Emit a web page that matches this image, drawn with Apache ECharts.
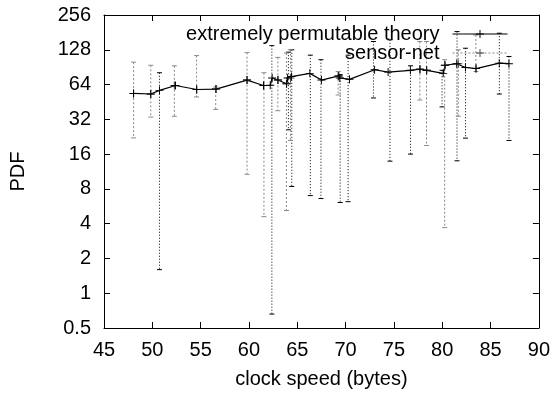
<!DOCTYPE html>
<html>
<head>
<meta charset="utf-8">
<script src="https://cdn.jsdelivr.net/npm/echarts@6/dist/echarts.min.js"></script>
<style>
  html, body { margin: 0; padding: 0; background: #fff; }
  #chart { width: 553px; height: 394px; }
</style>
</head>
<body>
<div id="chart"></div>
<script>
// x ticks and y (log2) ticks
var xTicks = [45, 50, 55, 60, 65, 70, 75, 80, 85, 90];
var yTicks = [0.5, 1, 2, 4, 8, 16, 32, 64, 128, 256];

// extremely permutable theory - line points
var theoryX = [48.06, 49.84, 50.74, 52.4, 54.6, 56.6, 59.8, 61.5, 62.2, 62.4, 63.0, 63.9, 64.0, 64.4, 66.3, 67.5,
               69.3, 69.4, 70.4, 73.0, 74.4, 76.7, 77.7, 78.4, 80.1, 80.3, 81.5, 82.4, 83.5, 85.9, 86.9];
var theoryY = [53.6, 53, 57, 62.8, 58, 58.5, 70, 62.8, 63, 73, 70, 65, 73, 75, 80, 70,
               76, 73, 71, 86, 82, 85, 87, 85, 80, 94, 97, 90, 88, 98, 97];
// black dotted error bars
var theoryErrX = [50.74, 62.37, 64.08, 64.43, 66.35, 67.45, 69.44, 70.26, 72.88, 74.59, 76.72, 79.98, 81.53, 82.41, 85.91, 86.91];
var theoryErrLow = [1.6, 0.66, 26, 8.4, 7.0, 6.6, 6.1, 6.2, 49, 13.9, 16, 41, 14, 22, 53, 21];
var theoryErrHigh = [81, 139, 122, 128, 115, 105, 78, 115, 151, 156, 93, 85, 184, 132, 178, 112];

// sensor-net - grey dotted error bars
var sensorX = [48.06, 49.84, 52.28, 54.58, 56.56, 59.8, 61.55, 62.99, 63.88, 64.29, 69.23, 77.68, 78.37, 80.25, 81.66, 83.48];
var sensorY = [53.6, 53, 62.8, 58, 58.5, 70, 62.8, 70, 65, 73, 76, 87, 85, 94, 97, 88];
var sensorLow = [22.1, 33.5, 34, 50, 39, 10.7, 4.6, 38, 5.2, 21, 52, 47, 19, 3.7, 34, 83];
var sensorHigh = [100, 94, 93, 114, 61, 121, 81, 110, 120, 128, 83, 151, 151, 105, 128, 172];

var plusSymbol = 'path://M4.4,0h1.2v10h-1.2zM0,4.4h10v1.2h-10z';
var font = 'Liberation Sans, Arial, sans-serif';

function errBar(color, dash) {
    return function (params, api) {
        var top = api.coord([api.value(0), api.value(2)]);
        var bot = api.coord([api.value(0), api.value(1)]);
        var st = { stroke: color, lineWidth: 1, lineDash: dash };
        var cap = { stroke: color, lineWidth: 1 };
        return {
            type: 'group',
            children: [
                { type: 'line', shape: { x1: top[0], y1: top[1], x2: bot[0], y2: bot[1] }, style: st },
                { type: 'line', shape: { x1: top[0] - 2.5, y1: top[1], x2: top[0] + 2.5, y2: top[1] }, style: cap },
                { type: 'line', shape: { x1: bot[0] - 2.5, y1: bot[1], x2: bot[0] + 2.5, y2: bot[1] }, style: cap }
            ]
        };
    };
}

var chart = echarts.init(document.getElementById('chart'), null, { renderer: 'canvas' });

var axisCommon = {
    axisLine: { show: true, lineStyle: { color: '#000', width: 1 } },
    axisTick: { show: true, inside: true, length: 6, lineStyle: { color: '#000' } },
    splitLine: { show: false }
};

chart.setOption({
    animation: false,
    backgroundColor: '#fff',
    textStyle: { fontFamily: font },
    grid: { left: 102, right: 14, top: 15, bottom: 64 },
    legend: [{
        data: ['extremely permutable theory'],
        right: 40, top: 19, align: 'right', orient: 'vertical',
        itemWidth: 55, itemHeight: 10,
        lineStyle: { width: 1 },
        textStyle: { fontSize: 20, color: '#000', fontFamily: font, padding: [0, 8, 0, 0] }
    }, {
        data: ['sensor-net'],
        right: 40, top: 38, align: 'right', orient: 'vertical',
        itemWidth: 55, itemHeight: 10,
        lineStyle: { color: '#888', width: 1, type: [2, 2], opacity: 1 },
        textStyle: { fontSize: 20, color: '#000', fontFamily: font, padding: [0, 8, 0, 0] }
    }],
    xAxis: [Object.assign({
        type: 'value', min: xTicks[0], max: xTicks[xTicks.length - 1], interval: 5,
        name: 'clock speed (bytes)', nameLocation: 'middle', nameGap: 41,
        nameTextStyle: { fontSize: 20, color: '#000', fontFamily: font },
        axisLabel: { fontSize: 20, color: '#000', margin: 12, fontFamily: font }
    }, axisCommon), Object.assign({
        type: 'value', position: 'top', min: xTicks[0], max: xTicks[xTicks.length - 1], interval: 5,
        axisLabel: { show: false }
    }, axisCommon)],
    yAxis: [Object.assign({
        type: 'log', logBase: 2, min: yTicks[0], max: yTicks[yTicks.length - 1], interval: 1,
        name: 'PDF', nameLocation: 'middle', nameGap: 76,
        nameTextStyle: { fontSize: 20, color: '#000', fontFamily: font },
        minorTick: { show: false },
        axisLabel: {
            fontSize: 20, color: '#000', margin: 13, fontFamily: font,
            formatter: function (v) { return String(Math.round(v * 1000) / 1000); }
        }
    }, axisCommon), Object.assign({
        type: 'log', logBase: 2, position: 'right', min: yTicks[0], max: yTicks[yTicks.length - 1], interval: 1,
        axisLabel: { show: false }
    }, axisCommon)],
    series: [
        {
            type: 'custom', name: 'theoryErr', xAxisIndex: 0, yAxisIndex: 0,
            renderItem: errBar('#000', [1, 2]),
            data: theoryErrX.map(function (x, i) { return [x, theoryErrLow[i], theoryErrHigh[i]]; }),
            silent: true
        },
        {
            type: 'custom', name: 'sensorErr', xAxisIndex: 0, yAxisIndex: 0,
            renderItem: errBar('#8a8a8a', [2, 2]),
            data: sensorX.map(function (x, i) { return [x, sensorLow[i], sensorHigh[i]]; }),
            silent: true
        },
        {
            type: 'line', name: 'sensor-net',
            data: sensorX.map(function (x, i) { return [x, sensorY[i]]; }),
            symbol: plusSymbol, symbolSize: 8, showAllSymbol: true,
            itemStyle: { color: '#444' },
            lineStyle: { width: 0, color: '#888' }
        },
        {
            type: 'line', name: 'extremely permutable theory',
            data: theoryX.map(function (x, i) { return [x, theoryY[i]]; }),
            symbol: plusSymbol, symbolSize: 8, showAllSymbol: true,
            itemStyle: { color: '#000' },
            lineStyle: { color: '#000', width: 1.2 }
        }
    ]
});
</script>
</body>
</html>
